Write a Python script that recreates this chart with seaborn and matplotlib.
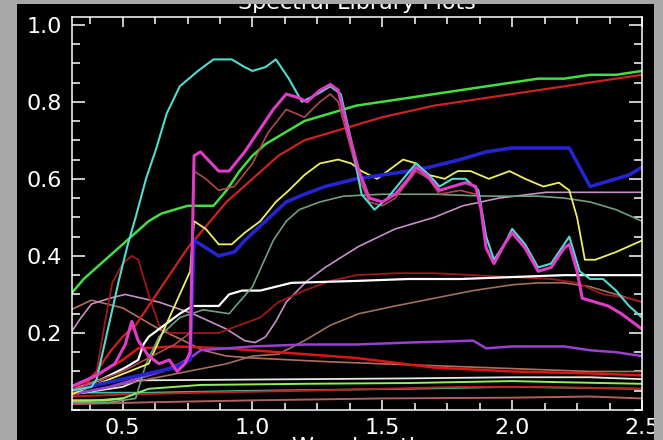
import matplotlib
matplotlib.use("Agg")
import matplotlib.pyplot as plt
from matplotlib.ticker import MultipleLocator
from matplotlib.patches import Rectangle
import seaborn as sns

# spectra (wavelength in micrometres, reflectance)
green_w = [0.30, 0.35, 0.40, 0.45, 0.50, 0.55, 0.60, 0.65, 0.70, 0.75, 0.80, 0.85, 0.90, 0.95,
           1.00, 1.05, 1.10, 1.20, 1.30, 1.40, 1.50, 1.60, 1.70, 1.80, 1.90, 2.00, 2.10, 2.20,
           2.30, 2.40, 2.50]
green_r = [0.30, 0.34, 0.37, 0.40, 0.43, 0.46, 0.49, 0.51, 0.52, 0.53, 0.53, 0.53, 0.57, 0.62,
           0.66, 0.69, 0.71, 0.75, 0.77, 0.79, 0.80, 0.81, 0.82, 0.83, 0.84, 0.85, 0.86, 0.86,
           0.87, 0.87, 0.88]

red_w = [0.30, 0.35, 0.40, 0.45, 0.50, 0.55, 0.60, 0.65, 0.70, 0.75, 0.80, 0.85, 0.90, 0.95,
         1.00, 1.05, 1.10, 1.15, 1.20, 1.30, 1.40, 1.50, 1.60, 1.70, 1.80, 1.90, 2.00, 2.10,
         2.20, 2.30, 2.40, 2.50]
red_r = [0.03, 0.06, 0.10, 0.15, 0.19, 0.22, 0.27, 0.32, 0.37, 0.42, 0.46, 0.50, 0.54, 0.57,
         0.60, 0.63, 0.66, 0.68, 0.70, 0.72, 0.74, 0.76, 0.775, 0.79, 0.80, 0.81, 0.82, 0.83,
         0.84, 0.85, 0.86, 0.87]

cyan_w = [0.30, 0.38, 0.40, 0.44, 0.485, 0.52, 0.55, 0.59, 0.63, 0.67, 0.72, 0.79, 0.85, 0.92,
          0.97, 1.00, 1.05, 1.09, 1.14, 1.19, 1.25, 1.30, 1.34, 1.38, 1.42, 1.47, 1.52, 1.58,
          1.63, 1.68, 1.72, 1.77, 1.82, 1.87, 1.90, 1.93, 1.97, 2.00, 2.05, 2.10, 2.15, 2.20,
          2.22, 2.26, 2.30, 2.35, 2.40, 2.45, 2.50]
cyan_r = [0.05, 0.06, 0.08, 0.20, 0.335, 0.43, 0.50, 0.60, 0.68, 0.77, 0.84, 0.88, 0.91, 0.91,
          0.89, 0.88, 0.89, 0.91, 0.86, 0.80, 0.82, 0.84, 0.82, 0.70, 0.56, 0.52, 0.55, 0.60,
          0.64, 0.61, 0.58, 0.60, 0.60, 0.57, 0.45, 0.39, 0.43, 0.47, 0.43, 0.37, 0.38, 0.43,
          0.45, 0.36, 0.34, 0.34, 0.31, 0.27, 0.24]

magenta_w = [0.30, 0.40, 0.47, 0.51, 0.535, 0.56, 0.60, 0.64, 0.68, 0.71, 0.74, 0.76, 0.775,
             0.80, 0.87, 0.91, 0.97, 1.03, 1.08, 1.13, 1.18, 1.21, 1.26, 1.30, 1.33, 1.37,
             1.41, 1.45, 1.50, 1.55, 1.60, 1.63, 1.67, 1.72, 1.77, 1.82, 1.86, 1.88, 1.90,
             1.93, 1.97, 2.00, 2.05, 2.10, 2.15, 2.20, 2.22, 2.25, 2.27, 2.32, 2.37, 2.42,
             2.46, 2.50]
magenta_r = [0.06, 0.09, 0.12, 0.17, 0.23, 0.18, 0.14, 0.12, 0.13, 0.10, 0.12, 0.15, 0.66,
             0.67, 0.62, 0.62, 0.67, 0.73, 0.78, 0.82, 0.81, 0.80, 0.83, 0.845, 0.83, 0.72,
             0.62, 0.55, 0.54, 0.56, 0.60, 0.63, 0.61, 0.57, 0.58, 0.59, 0.58, 0.52, 0.42,
             0.38, 0.43, 0.46, 0.42, 0.36, 0.37, 0.42, 0.43, 0.36, 0.29, 0.28, 0.27, 0.25,
             0.23, 0.21]

salmon_w = [0.30, 0.50, 0.70, 0.76, 0.775, 0.82, 0.87, 0.93, 1.00, 1.06, 1.13, 1.20, 1.26,
            1.30, 1.33, 1.37, 1.41, 1.45, 1.50, 1.55, 1.63, 1.68, 1.72, 1.80, 1.86]
salmon_r = [0.05, 0.10, 0.17, 0.20, 0.62, 0.60, 0.57, 0.58, 0.64, 0.72, 0.78, 0.76, 0.80,
            0.82, 0.80, 0.70, 0.60, 0.54, 0.53, 0.55, 0.62, 0.60, 0.56, 0.57, 0.56]

blue_w = [0.30, 0.50, 0.70, 0.76, 0.775, 0.80, 0.87, 0.93, 0.97, 1.05, 1.13, 1.20, 1.28, 1.40,
          1.50, 1.60, 1.68, 1.80, 1.90, 2.00, 2.10, 2.22, 2.26, 2.30, 2.35, 2.45, 2.50]
blue_r = [0.05, 0.08, 0.11, 0.13, 0.44, 0.43, 0.40, 0.41, 0.44, 0.49, 0.54, 0.56, 0.58, 0.60,
          0.61, 0.62, 0.63, 0.65, 0.67, 0.68, 0.68, 0.68, 0.63, 0.58, 0.59, 0.61, 0.63]

yellow_w = [0.30, 0.45, 0.60, 0.76, 0.775, 0.82, 0.87, 0.92, 0.97, 1.03, 1.09, 1.14, 1.20,
            1.26, 1.33, 1.38, 1.42, 1.48, 1.52, 1.58, 1.63, 1.68, 1.74, 1.79, 1.84, 1.91,
            1.99, 2.05, 2.12, 2.18, 2.22, 2.25, 2.28, 2.32, 2.40, 2.50]
yellow_r = [0.04, 0.08, 0.12, 0.36, 0.49, 0.47, 0.43, 0.43, 0.46, 0.49, 0.54, 0.57, 0.61,
            0.64, 0.65, 0.64, 0.62, 0.60, 0.62, 0.65, 0.64, 0.61, 0.60, 0.62, 0.62, 0.60,
            0.62, 0.60, 0.58, 0.59, 0.57, 0.50, 0.39, 0.39, 0.41, 0.44]

graygreen_w = [0.30, 0.45, 0.55, 0.59, 0.64, 0.72, 0.81, 0.91, 1.00, 1.08, 1.13, 1.18, 1.26,
               1.35, 1.50, 1.70, 1.90, 2.10, 2.20, 2.30, 2.40, 2.50]
graygreen_r = [0.02, 0.02, 0.03, 0.12, 0.19, 0.24, 0.26, 0.25, 0.32, 0.44, 0.49, 0.52, 0.54,
               0.555, 0.56, 0.56, 0.555, 0.555, 0.55, 0.54, 0.52, 0.49]

plum_w = [0.30, 0.34, 0.38, 0.45, 0.51, 0.64, 0.77, 0.90, 0.97, 1.01, 1.05, 1.09, 1.13, 1.21,
          1.28, 1.41, 1.55, 1.70, 1.81, 1.95, 2.13, 2.30, 2.50]
plum_r = [0.20, 0.24, 0.275, 0.29, 0.30, 0.28, 0.25, 0.21, 0.18, 0.175, 0.19, 0.23, 0.28,
          0.335, 0.37, 0.425, 0.47, 0.50, 0.53, 0.55, 0.565, 0.565, 0.565]

white_w = [0.30, 0.42, 0.51, 0.56, 0.58, 0.60, 0.64, 0.72, 0.77, 0.87, 0.91, 0.96, 1.03,
           1.15, 1.40, 1.60, 1.80, 2.00, 2.20, 2.50]
white_r = [0.05, 0.08, 0.11, 0.13, 0.17, 0.19, 0.21, 0.25, 0.27, 0.27, 0.30, 0.31, 0.31,
           0.33, 0.335, 0.34, 0.34, 0.345, 0.35, 0.35]

darkred_w = [0.30, 0.40, 0.43, 0.46, 0.50, 0.535, 0.56, 0.60, 0.64, 0.68, 0.75, 0.87, 0.95,
             1.03, 1.10, 1.20, 1.30, 1.40, 1.55, 1.70, 1.85, 2.00, 2.15, 2.25, 2.35, 2.45,
             2.50]
darkred_r = [0.04, 0.10, 0.22, 0.33, 0.38, 0.40, 0.39, 0.30, 0.22, 0.20, 0.20, 0.20, 0.22,
             0.24, 0.28, 0.31, 0.335, 0.35, 0.355, 0.355, 0.35, 0.345, 0.34, 0.33, 0.30,
             0.29, 0.28]

rosy_w = [0.30, 0.38, 0.50, 0.64, 0.72, 0.81, 0.90, 1.00, 1.15, 1.30, 1.50, 1.70, 1.90, 2.10,
          2.30, 2.50]
rosy_r = [0.26, 0.285, 0.265, 0.21, 0.185, 0.155, 0.14, 0.135, 0.13, 0.125, 0.12, 0.115,
          0.11, 0.105, 0.10, 0.10]

brightred_w = [0.30, 0.40, 0.50, 0.56, 0.70, 0.90, 1.20, 1.40, 1.70, 2.00, 2.30, 2.50]
brightred_r = [0.05, 0.09, 0.13, 0.16, 0.165, 0.16, 0.145, 0.135, 0.11, 0.10, 0.095, 0.09]

brown_w = [0.30, 0.60, 0.90, 1.00, 1.10, 1.20, 1.30, 1.41, 1.55, 1.70, 1.85, 2.00, 2.10,
           2.20, 2.30, 2.40, 2.50]
brown_r = [0.04, 0.08, 0.12, 0.14, 0.145, 0.18, 0.22, 0.25, 0.27, 0.29, 0.31, 0.325, 0.33,
           0.33, 0.32, 0.30, 0.28]

purple_w = [0.30, 0.45, 0.55, 0.65, 0.72, 0.77, 0.80, 1.00, 1.20, 1.40, 1.60, 1.85, 1.90,
            2.00, 2.20, 2.30, 2.40, 2.50]
purple_r = [0.04, 0.06, 0.08, 0.10, 0.12, 0.14, 0.155, 0.165, 0.17, 0.17, 0.175, 0.18, 0.16,
            0.165, 0.165, 0.155, 0.15, 0.14]

lowwhite_w = [0.30, 0.50, 0.56, 0.80, 1.20, 1.60, 2.00, 2.30, 2.50]
lowwhite_r = [0.04, 0.06, 0.077, 0.078, 0.08, 0.082, 0.085, 0.085, 0.08]

lowgreen_w = [0.30, 0.50, 0.60, 0.70, 0.80, 1.20, 1.60, 2.00, 2.20, 2.50]
lowgreen_r = [0.02, 0.03, 0.055, 0.06, 0.065, 0.068, 0.07, 0.075, 0.072, 0.068]

lowred_w = [0.30, 0.50, 0.80, 1.20, 1.50, 1.80, 2.10, 2.50]
lowred_r = [0.035, 0.04, 0.045, 0.05, 0.055, 0.06, 0.06, 0.055]

lowaqua_w = [0.30, 0.60, 1.00, 1.60, 2.00, 2.50]
lowaqua_r = [0.045, 0.045, 0.05, 0.055, 0.06, 0.055]

lowbrown_w = [0.30, 0.60, 1.00, 1.50, 2.00, 2.30, 2.50]
lowbrown_r = [0.015, 0.02, 0.025, 0.03, 0.032, 0.035, 0.03]

lowyellow_w = [0.30, 0.43, 0.50]
lowyellow_r = [0.025, 0.025, 0.03]

# drawing order, colour, line width
spectra = [
    (lowbrown_w, lowbrown_r, "#b06060", 1.4),
    (lowyellow_w, lowyellow_r, "#e0d040", 1.6),
    (lowaqua_w, lowaqua_r, "#40c0a0", 1.3),
    (lowred_w, lowred_r, "#c02020", 1.4),
    (lowgreen_w, lowgreen_r, "#90ee60", 1.4),
    (lowwhite_w, lowwhite_r, "#e8e8e8", 1.3),
    (brown_w, brown_r, "#a07060", 1.2),
    (rosy_w, rosy_r, "#b07060", 1.2),
    (brightred_w, brightred_r, "#dd1515", 1.8),
    (purple_w, purple_r, "#9a40d0", 1.8),
    (plum_w, plum_r, "#c890c8", 1.2),
    (darkred_w, darkred_r, "#a01818", 1.3),
    (white_w, white_r, "#ffffff", 1.6),
    (graygreen_w, graygreen_r, "#70a080", 1.2),
    (red_w, red_r, "#cc2222", 1.6),
    (green_w, green_r, "#44dd44", 1.8),
    (yellow_w, yellow_r, "#eeee66", 1.3),
    (blue_w, blue_r, "#2424d0", 2.6),
    (salmon_w, salmon_r, "#b04a50", 1.2),
    (cyan_w, cyan_r, "#50dcd0", 1.5),
    (magenta_w, magenta_r, "#e03cc8", 2.2),
]

sns.set_style("ticks")
plt.rcParams["font.family"] = ["DejaVu Sans"]

fig = plt.figure(figsize=(6.63, 4.40), dpi=100, facecolor="black")
ax = fig.add_axes([72 / 663, 1 - 410 / 440, 570 / 663, 393 / 440])
ax.set_facecolor("black")

for w, r, c, lw in spectra:
    sns.lineplot(x=w, y=r, color=c, linewidth=lw, ax=ax, estimator=None, sort=False)

ax.set_xlim(0.305, 2.5)
ax.set_ylim(0.0, 1.02)
ax.set_xticks([0.5, 1.0, 1.5, 2.0, 2.5])
ax.set_xticklabels(["0.5", "1.0", "1.5", "2.0", "2.5"])
ax.set_yticks([0.2, 0.4, 0.6, 0.8, 1.0])
ax.set_yticklabels(["0.2", "0.4", "0.6", "0.8", "1.0"])
ax.xaxis.set_minor_locator(MultipleLocator(0.125))
ax.yaxis.set_minor_locator(MultipleLocator(0.05))
ax.tick_params(which="both", direction="in", top=True, right=True, colors="white",
               labelcolor="white", labelsize=16, width=1.1)
ax.tick_params(axis="x", which="major", length=7.5, pad=6)
ax.tick_params(axis="x", which="minor", length=5)
ax.tick_params(axis="y", which="major", length=9.5, pad=7)
ax.tick_params(axis="y", which="minor", length=6)
for s in ax.spines.values():
    s.set_color("white")
    s.set_linewidth(1.1)
ax.set_xlabel("")
ax.set_ylabel("")

# title and axis label sit partly outside the visible window, as in the screenshot
fig.text(357 / 663, 1 - 9 / 440, "Spectral Library Plots", color="white", fontsize=16,
         ha="center", va="baseline", zorder=1)
fig.text(357 / 663, 1 - 437 / 440, "Wavelength", color="white", fontsize=16,
         ha="center", va="top", zorder=1)

gray = "#a8a8a8"
for x0, y0, w0, h0 in [(0, 0, 17 / 663, 1), (0, 1 - 4 / 440, 1, 4 / 440),
                       (654 / 663, 0, 9 / 663, 1)]:
    fig.patches.append(Rectangle((x0, y0), w0, h0, transform=fig.transFigure,
                                 facecolor=gray, edgecolor="none", zorder=10))

fig.savefig("out.png", dpi=100, facecolor="black")
